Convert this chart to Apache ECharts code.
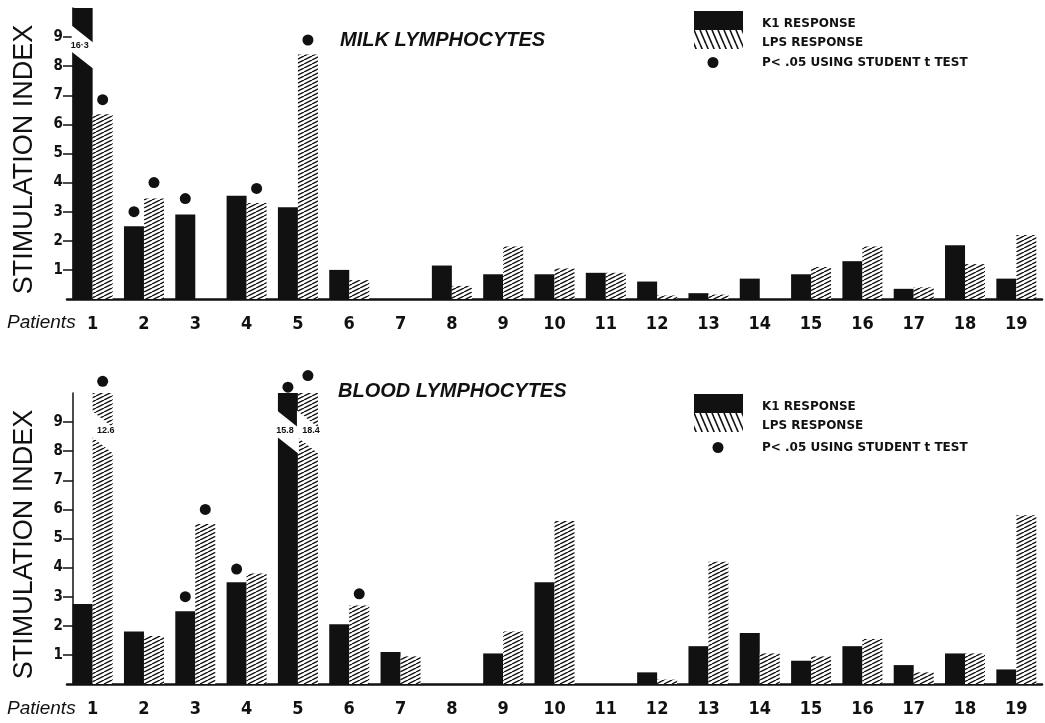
<!DOCTYPE html>
<html>
<head>
<meta charset="utf-8">
<script src="https://cdn.jsdelivr.net/npm/echarts@6/dist/echarts.min.js"></script>
<style>
  html, body { margin: 0; padding: 0; background: #fff; }
  #chart { width: 1045px; height: 723px; }
</style>
</head>
<body>
<div id="chart"></div>
<script>
// patients along the x axis, y ticks shown on the left
const patients = ['1', '2', '3', '4', '5', '6', '7', '8', '9', '10', '11', '12', '13', '14', '15', '16', '17', '18', '19'];
const yTicks = [1, 2, 3, 4, 5, 6, 7, 8, 9];

// milk lymphocytes - stimulation index
const milkK1 = [16.3, 2.5, 2.9, 3.55, 3.15, 1.0, 0, 1.15, 0.85, 0.85, 0.9, 0.6, 0.2, 0.7, 0.85, 1.3, 0.35, 1.85, 0.7];
const milkLPS = [6.35, 3.45, 0, 3.3, 8.4, 0.65, 0, 0.45, 1.8, 1.05, 0.9, 0.12, 0.15, 0, 1.1, 1.8, 0.4, 1.2, 2.2];

// blood lymphocytes - stimulation index
const bloodK1 = [2.75, 1.8, 2.5, 3.5, 15.8, 2.05, 1.1, 0, 1.05, 3.5, 0, 0.4, 1.3, 1.75, 0.8, 1.3, 0.65, 1.05, 0.5];
const bloodLPS = [12.6, 1.65, 5.5, 3.8, 18.4, 2.7, 0.95, 0, 1.8, 5.6, 0, 0.15, 4.2, 1.05, 0.95, 1.55, 0.4, 1.05, 5.8];

// P < .05 markers: [patient, height of the dot]
const milkDotsK1 = [['2', 3.0], ['3', 3.45]];
const milkDotsLPS = [['1', 6.85], ['2', 4.0], ['4', 3.8], ['5', 8.9]];
const bloodDotsK1 = [['3', 3.0], ['4', 3.95], ['5', 10.2]];
const bloodDotsLPS = [['1', 10.4], ['3', 6.0], ['5', 10.6], ['6', 3.1]];

const Y_MAX = 10;
const BAR_W = 20;
const DOT_NAME = 'P< .05 USING STUDENT t TEST';

// diagonal hatching tiles
function hatch(w, h, forward, lw) {
  const c = document.createElement('canvas');
  c.width = w; c.height = h;
  const ctx = c.getContext('2d');
  ctx.fillStyle = '#fff';
  ctx.fillRect(0, 0, w, h);
  ctx.strokeStyle = '#111';
  ctx.lineWidth = lw;
  for (let k = -1; k <= 1; k++) {
    ctx.beginPath();
    if (forward) { ctx.moveTo(k * w, h); ctx.lineTo((k + 1) * w, 0); }
    else { ctx.moveTo(k * w, 0); ctx.lineTo((k + 1) * w, h); }
    ctx.stroke();
  }
  return { image: c, repeat: 'repeat' };
}
const barHatch = hatch(8, 4, true, 1.4);
const legendHatch = hatch(6, 14, false, 1.6);

// bars taller than the axis get a white break with their value
function breaksOf(values, side) {
  const out = [];
  values.forEach((v, i) => { if (v > Y_MAX) out.push([i, side, v]); });
  return out;
}

function breakRenderer(sep) {
  return function (params, api) {
    const cat = api.value(0);
    const side = api.value(1);
    const cx = api.coord([cat, 0])[0];
    const x0 = side < 0 ? cx - BAR_W : cx;
    const x1 = x0 + BAR_W;
    const yTL = api.coord([cat, 9.4])[1];
    const yTR = api.coord([cat, 8.8])[1];
    const yBL = api.coord([cat, 8.5])[1];
    const yBR = api.coord([cat, 7.9])[1];
    return {
      type: 'group',
      children: [
        { type: 'polygon', shape: { points: [[x0 - 1, yTL], [x1 + 1, yTR], [x1 + 1, yBR], [x0 - 1, yBL]] }, style: { fill: '#fff' } },
        {
          type: 'text', x: (x0 + x1) / 2 + side * 3, y: (yTL + yBR) / 2 - 2,
          style: {
            text: String(api.value(2)).replace('.', sep), fill: '#111',
            font: 'bold 9px "Liberation Sans"', align: 'center', verticalAlign: 'middle'
          }
        }
      ]
    };
  };
}

const numFont = { fontFamily: 'DejaVu Sans Condensed', fontWeight: 'bold', color: '#111' };
const legendText = { fontFamily: 'DejaVu Sans', fontWeight: 'bold', fontSize: 12, color: '#111' };

function xAxisFor(g) {
  return {
    type: 'category', gridIndex: g, data: patients,
    axisLine: { lineStyle: { color: '#111', width: 2.5 } },
    axisTick: { show: false },
    axisLabel: Object.assign({ interval: 0, margin: 16, fontSize: 18 }, numFont)
  };
}

function yAxisFor(g) {
  return {
    type: 'value', gridIndex: g, min: 0, max: Y_MAX, interval: 1, offset: -6,
    splitLine: { show: false },
    axisLine: { show: true, lineStyle: { color: '#111', width: 1.5 } },
    axisTick: { show: true, length: 10, customValues: yTicks, lineStyle: { color: '#111', width: 1.5 } },
    axisLabel: Object.assign({ customValues: yTicks, margin: 10, fontSize: 15 }, numFont),
    name: 'STIMULATION INDEX', nameLocation: 'middle', nameRotate: 90, nameGap: 35,
    nameTextStyle: { fontFamily: 'Liberation Sans', fontSize: 27, color: '#111', padding: [0, 12, 0, 0] }
  };
}

function barsFor(g, k1, lps) {
  return [
    { name: 'K1 RESPONSE', type: 'bar', xAxisIndex: g, yAxisIndex: g, data: k1, barWidth: BAR_W, barGap: '0%', itemStyle: { color: '#111' } },
    { name: 'LPS RESPONSE', type: 'bar', xAxisIndex: g, yAxisIndex: g, data: lps, barWidth: BAR_W, barGap: '0%', itemStyle: { color: barHatch } }
  ];
}

function dotsFor(g, k1Dots, lpsDots) {
  return {
    name: DOT_NAME, type: 'scatter', xAxisIndex: g, yAxisIndex: g, clip: false, z: 4,
    symbol: 'circle', symbolSize: 11, itemStyle: { color: '#111', opacity: 1 },
    data: k1Dots.map(d => ({ value: d, symbolOffset: [-BAR_W / 2, 0] }))
      .concat(lpsDots.map(d => ({ value: d, symbolOffset: [BAR_W / 2, 0] })))
  };
}

function breakSeries(g, k1, lps, sep) {
  return {
    type: 'custom', xAxisIndex: g, yAxisIndex: g, z: 3, silent: true,
    renderItem: breakRenderer(sep),
    data: breaksOf(k1, -1).concat(breaksOf(lps, 1))
  };
}

function legendsAt(top, dotLeft, dotTop) {
  return [
    {
      left: 694, top: top, padding: 0, orient: 'vertical', itemWidth: 49, itemHeight: 19, itemGap: 0,
      selectedMode: false, icon: 'rect',
      data: [
        { name: 'K1 RESPONSE', itemStyle: { color: '#111' } },
        { name: 'LPS RESPONSE', itemStyle: { color: legendHatch } }
      ],
      // label sits a little below the swatch centre
      formatter: n => '{s|}{t|' + n + '}',
      textStyle: Object.assign({
        rich: {
          s: { width: 14, height: 19 },
          t: Object.assign({ verticalAlign: 'bottom' }, legendText)
        }
      }, legendText)
    },
    {
      left: dotLeft, top: dotTop, padding: 0, orient: 'vertical', itemWidth: 11, itemHeight: 11,
      selectedMode: false, icon: 'circle',
      data: [{ name: DOT_NAME, itemStyle: { color: '#111', opacity: 1 } }],
      formatter: n => '{g|}' + n,
      textStyle: Object.assign({ rich: { g: { width: 762 - dotLeft - 16 } } }, legendText)
    }
  ];
}

const chart = echarts.init(document.getElementById('chart'));

const titleStyle = { fontFamily: 'Liberation Sans', fontStyle: 'italic', fontWeight: 'bold', fontSize: 20, color: '#111' };
const patientsStyle = { fontFamily: 'Liberation Sans', fontStyle: 'italic', fontWeight: 'normal', fontSize: 19, color: '#111' };

chart.setOption({
  animation: false,
  backgroundColor: '#fff',
  title: [
    { text: 'MILK LYMPHOCYTES', left: 340, top: 30, padding: 0, textStyle: titleStyle },
    { text: 'BLOOD LYMPHOCYTES', left: 338, top: 381, padding: 0, textStyle: titleStyle },
    { text: 'Patients', left: 7, top: 313, padding: 0, textStyle: patientsStyle },
    { text: 'Patients', left: 7, top: 699, padding: 0, textStyle: patientsStyle }
  ],
  legend: legendsAt(11, 707.5, 56.5).concat(legendsAt(394, 712.5, 441.5)),
  grid: [
    { left: 67, width: 975, top: 8, height: 291 },
    { left: 67, width: 975, top: 393, height: 291 }
  ],
  xAxis: [xAxisFor(0), xAxisFor(1)],
  yAxis: [yAxisFor(0), yAxisFor(1)],
  series: [].concat(
    barsFor(0, milkK1, milkLPS),
    barsFor(1, bloodK1, bloodLPS),
    [
      breakSeries(0, milkK1, milkLPS, '·'),
      breakSeries(1, bloodK1, bloodLPS, '.'),
      dotsFor(0, milkDotsK1, milkDotsLPS),
      dotsFor(1, bloodDotsK1, bloodDotsLPS)
    ]
  )
});
</script>
</body>
</html>
